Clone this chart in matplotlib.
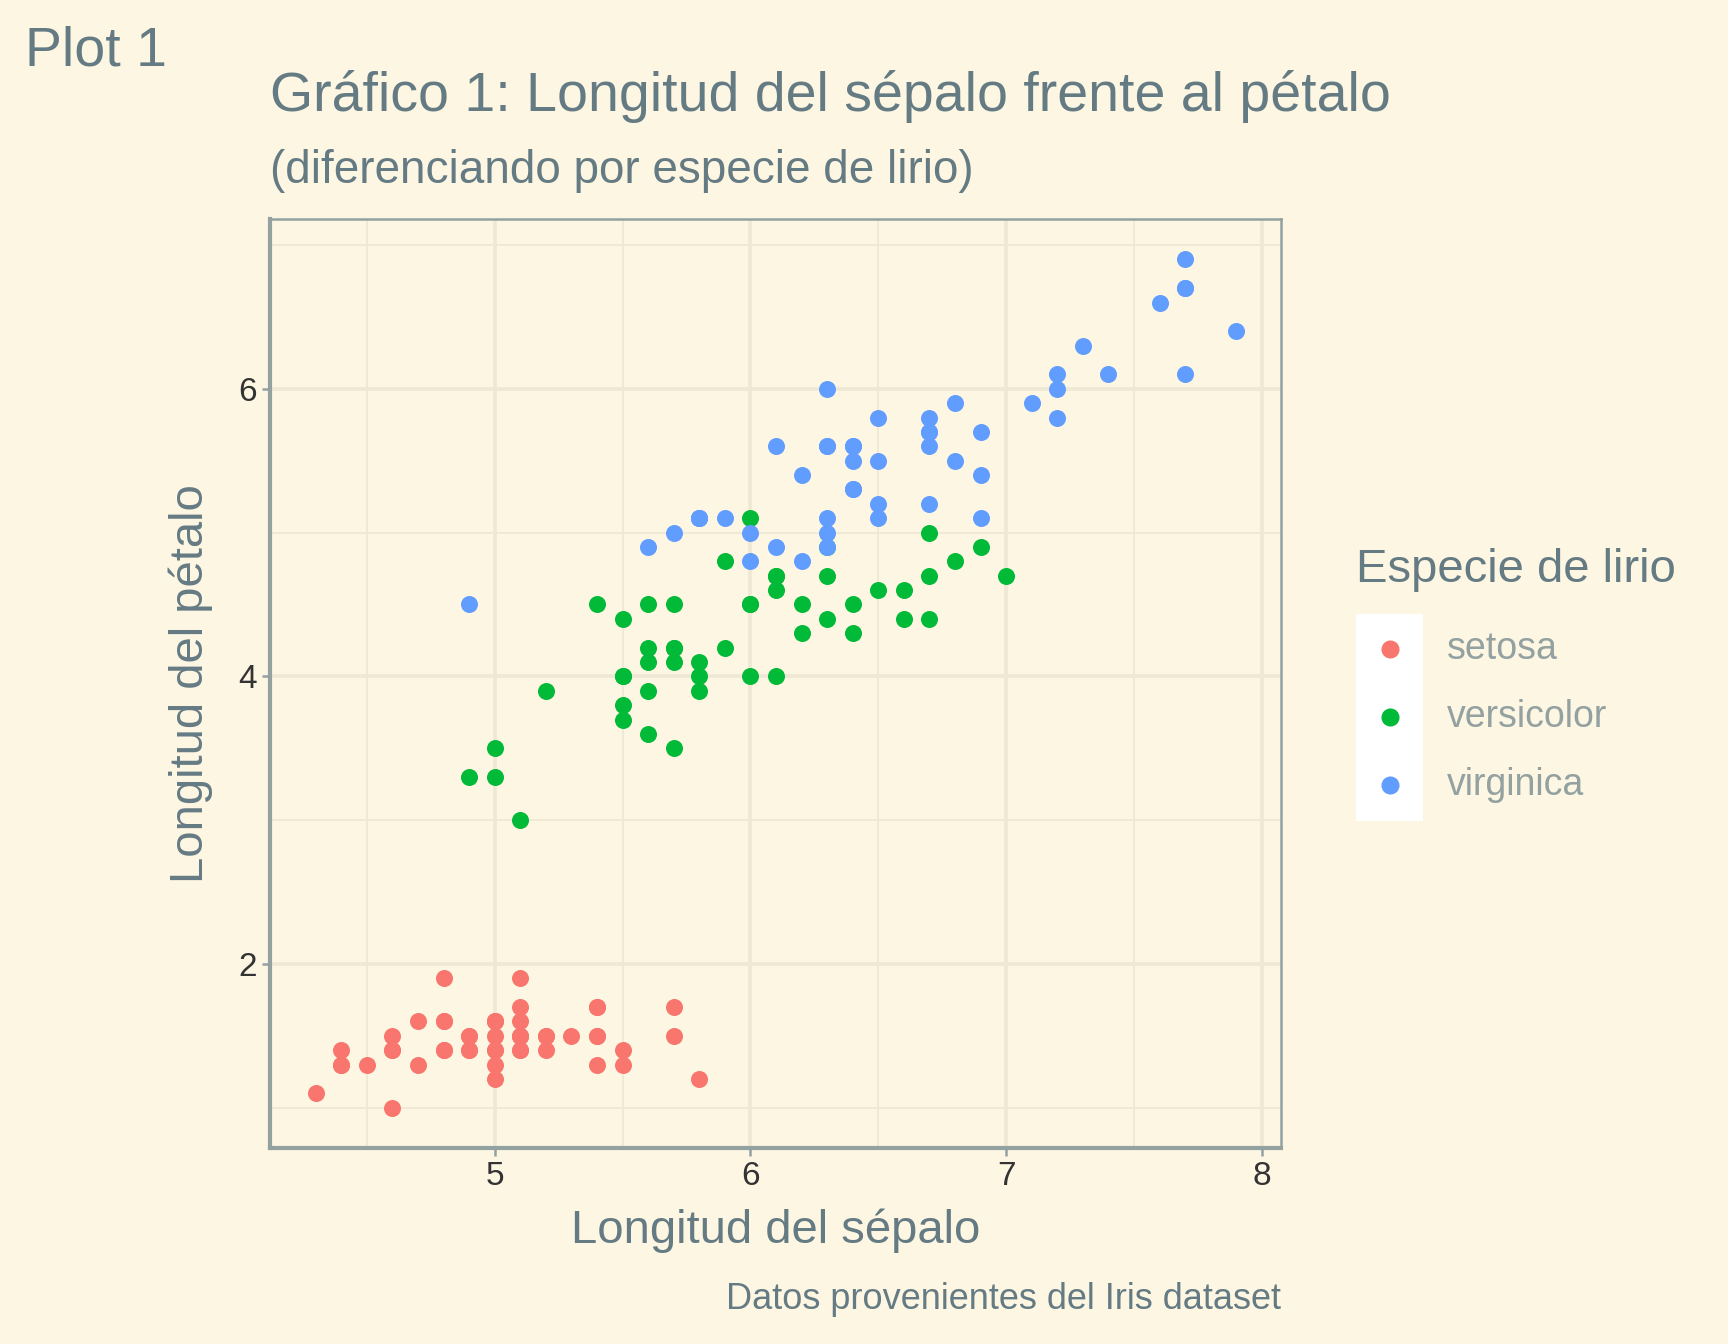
import matplotlib
matplotlib.use("Agg")
import matplotlib.pyplot as plt
from matplotlib.patches import Rectangle
from matplotlib.lines import Line2D

plt.rcParams['font.family'] = ['Liberation Sans', 'DejaVu Sans']

species = ["setosa", "versicolor", "virginica"]
colors = ["#F8766D", "#00BA38", "#619CFF"]
sepal = {
 "setosa": [5.1,4.9,4.7,4.6,5.0,5.4,4.6,5.0,4.4,4.9,5.4,4.8,4.8,4.3,5.8,5.7,5.4,5.1,5.7,5.1,5.4,5.1,4.6,5.1,4.8,5.0,5.0,5.2,5.2,4.7,4.8,5.4,5.2,5.5,4.9,5.0,5.5,4.9,4.4,5.1,5.0,4.5,4.4,5.0,5.1,4.8,5.1,4.6,5.3,5.0],
 "versicolor": [7.0,6.4,6.9,5.5,6.5,5.7,6.3,4.9,6.6,5.2,5.0,5.9,6.0,6.1,5.6,6.7,5.6,5.8,6.2,5.6,5.9,6.1,6.3,6.1,6.4,6.6,6.8,6.7,6.0,5.7,5.5,5.5,5.8,6.0,5.4,6.0,6.7,6.3,5.6,5.5,5.5,6.1,5.8,5.0,5.6,5.7,5.7,6.2,5.1,5.7],
 "virginica": [6.3,5.8,7.1,6.3,6.5,7.6,4.9,7.3,6.7,7.2,6.5,6.4,6.8,5.7,5.8,6.4,6.5,7.7,7.7,6.0,6.9,5.6,7.7,6.3,6.7,7.2,6.2,6.1,6.4,7.2,7.4,7.9,6.4,6.3,6.1,7.7,6.3,6.4,6.0,6.9,6.7,6.9,5.8,6.8,6.7,6.7,6.3,6.5,6.2,5.9],
}
petal = {
 "setosa": [1.4,1.4,1.3,1.5,1.4,1.7,1.4,1.5,1.4,1.5,1.5,1.6,1.4,1.1,1.2,1.5,1.3,1.4,1.7,1.5,1.7,1.5,1.0,1.7,1.9,1.6,1.6,1.5,1.4,1.6,1.6,1.5,1.5,1.4,1.5,1.2,1.3,1.4,1.3,1.5,1.3,1.3,1.3,1.6,1.9,1.4,1.6,1.4,1.5,1.4],
 "versicolor": [4.7,4.5,4.9,4.0,4.6,4.5,4.7,3.3,4.6,3.9,3.5,4.2,4.0,4.7,3.6,4.4,4.5,4.1,4.5,3.9,4.8,4.0,4.9,4.7,4.3,4.4,4.8,5.0,4.5,3.5,3.8,3.7,3.9,5.1,4.5,4.5,4.7,4.4,4.1,4.0,4.4,4.6,4.0,3.3,4.2,4.2,4.2,4.3,3.0,4.1],
 "virginica": [6.0,5.1,5.9,5.6,5.8,6.6,4.5,6.3,5.8,6.1,5.1,5.3,5.5,5.0,5.1,5.3,5.5,6.7,6.9,5.0,5.7,4.9,6.7,4.9,5.7,6.0,4.8,4.9,5.6,5.8,6.1,6.4,5.6,5.1,5.6,6.1,5.6,5.5,4.8,5.4,5.6,5.1,5.1,5.9,5.7,5.2,5.0,5.2,5.4,5.1],
}
xticks = [5, 6, 7, 8]
yticks = [2, 4, 6]

W, H = 1568, 1220
bg = "#FDF6E3"; txt = "#657B83"; grid = "#EEE8D5"; spine = "#93A1A1"
fig = plt.figure(figsize=(17.28, 13.44), dpi=100, facecolor=bg)
l, r, b, t = 245/W, 1162/W, 1 - 1042/H, 1 - 199/H
ax = fig.add_axes([l, b, r - l, t - b], facecolor=bg)
for sp, c in zip(species, colors):
    ax.scatter(sepal[sp], petal[sp], s=150, color=c, linewidths=0, zorder=3)
ax.set_xlim(4.121, 8.073)
ax.set_ylim(0.72, 7.18)
ax.set_xticks(xticks); ax.set_yticks(yticks)
ax.set_xticks([4.5, 5.5, 6.5, 7.5], minor=True)
ax.set_yticks([1, 3, 5, 7], minor=True)
ax.grid(True, which='major', color=grid, lw=2.6, zorder=0)
ax.grid(True, which='minor', color=grid, lw=1.3, zorder=0)
ax.tick_params(which='minor', length=0)
ax.tick_params(which='major', colors=spine, labelcolor="#333333", labelsize=24, length=6, width=1.8)
for s in ax.spines.values():
    s.set_color(spine); s.set_linewidth(1.8)
ax.spines['left'].set_linewidth(3); ax.spines['bottom'].set_linewidth(3)
ax.set_xlabel("Longitud del sépalo", color=txt, fontsize=34, labelpad=12)
ax.set_ylabel("Longitud del pétalo", color=txt, fontsize=34, labelpad=18)

fig.text(23/W, 1 - 47/H, "Plot 1", color=txt, fontsize=40, va='center')
fig.text(l, 1 - 88/H, "Gráfico 1: Longitud del sépalo frente al pétalo", color=txt, fontsize=40, va='center')
fig.text(l, 1 - 155/H, "(diferenciando por especie de lirio)", color=txt, fontsize=33, va='center')
fig.text(r, 1 - 1180/H, "Datos provenientes del Iris dataset", color=txt, fontsize=26, va='center', ha='right')

# legend
fig.text(1230/W, 1 - 517/H, "Especie de lirio", color=txt, fontsize=34, va='center')
fig.add_artist(Rectangle((1230/W, 1 - 745/H), 61/W, 188/H, transform=fig.transFigure,
                         facecolor='white', edgecolor='none'))
for i, (sp, c) in enumerate(zip(species, colors)):
    y = 1 - (589 + 62 * i) / H
    fig.add_artist(Line2D([1261/W], [y], marker='o', markersize=12, color=c, lw=0,
                          transform=fig.transFigure))
    fig.text(1313/W, y, sp, color=spine, fontsize=27, va='center')

fig.savefig("out.png", dpi=100, facecolor=bg)
